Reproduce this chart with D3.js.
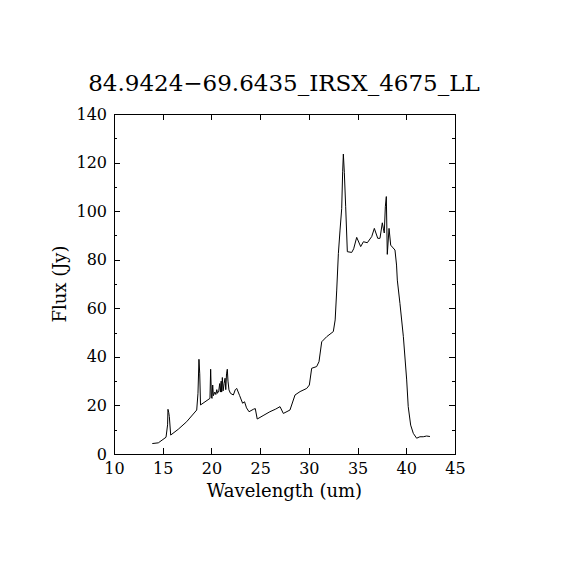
<!DOCTYPE html>
<html lang="en">
<head>
  <meta charset="UTF-8">
  <title>84.9424-69.6435_IRSX_4675_LL</title>
  <style>
    body { margin: 0; background: #fff; }
    svg { display: block; }
    text { font-family: "DejaVu Serif", "Liberation Serif", serif; fill: #000; }
  </style>
</head>
<body>
  <div class="container"></div>
  <script src="https://d3js.org/d3.v7.min.js"></script>
  <script>
    // spectrum
    const wavelength = [13.93, 14.55, 15.34, 15.50, 15.54, 15.62, 15.68, 15.82, 16.6, 17.46,
      18.49, 18.62, 18.72, 18.80, 18.88, 19.85, 19.92, 20.0, 20.06, 20.13,
      20.2, 20.35, 20.45, 20.55, 20.62, 20.75, 20.85, 20.92, 21.0, 21.05,
      21.12, 21.2, 21.3, 21.4, 21.47, 21.55, 21.63, 21.7, 21.8, 21.95,
      22.25, 22.45, 22.6, 22.9, 23.2, 23.4, 23.6, 23.86, 24.3, 24.5,
      24.7, 25.3, 26.0, 26.6, 27.04, 27.38, 28.06, 28.58, 29.1, 29.78,
      30.05, 30.29, 30.8, 31.04, 31.32, 31.83, 32.51, 32.7, 32.86, 33.03,
      33.2, 33.37, 33.47, 33.54, 33.64, 33.78, 33.95, 34.4, 34.6, 34.91,
      35.32, 35.6, 36.0, 36.45, 36.72, 37.07, 37.3, 37.54, 37.64, 37.74,
      37.85, 37.95, 38.05, 38.23, 38.4, 38.57, 38.84, 39.0, 39.08, 39.35,
      39.7, 40.04, 40.2, 40.45, 40.72, 41.06, 41.4, 41.74, 42.08, 42.43]
    const flux = [4.3, 4.6, 6.9, 12, 18.4, 17, 15.4, 7.8, 10.2, 13.3,
      18.1, 25, 39.0, 33, 20.2, 22.9, 34.9, 23.5, 22.9, 28.4,
      24.0, 25.5, 24.5, 26.5, 25, 26, 29, 25.5, 30, 25.5,
      31.5, 26, 29, 31.2, 26.5, 33, 34.9, 30, 26.4, 25,
      24.3, 26.5, 27.0, 24, 20.9, 21.5, 19, 17.4, 18.4, 18.7,
      14.4, 15.8, 17.4, 18.5, 19.5, 16.7, 18.1, 24.3, 25.7, 27.0,
      28.4, 35.3, 36.0, 38, 46.2, 48.3, 50.4, 55.2, 67.5, 82.6,
      92.2, 101, 116.2, 123.5, 116, 101.8, 83.3, 83, 84.5, 89.2,
      85.4, 87.4, 87, 89.5, 92.9, 88.8, 88.8, 95.2, 93, 91,
      101.8, 106, 82.2, 92.9, 86, 85.2, 84, 77.8, 71.6, 62.0,
      48.3, 30.5, 19.5, 11.9, 8.5, 6.5, 7.1, 7.1, 7.4, 7.2]

    const xTicks = [10, 15, 20, 25, 30, 35, 40, 45]
    const yTicks = [0, 20, 40, 60, 80, 100, 120, 140]
    const yMinor = [10, 30, 50, 70, 90, 110, 130]
    const title = '84.9424\u221269.6435_IRSX_4675_LL'

    const W = 570, H = 570
    const pLeft = 114, pRight = 455, pTop = 114, pBottom = 454

    const x = d3.scaleLinear().domain([10, 45]).range([pLeft, pRight])
    const y = d3.scaleLinear().domain([0, 140]).range([pBottom, pTop])

    const svg = d3.select('.container').append('svg')
      .attr('width', W)
      .attr('height', H)
    svg.append('rect').attr('width', W).attr('height', H).attr('fill', '#fff')

    // title
    svg.append('text')
      .attr('x', 284)
      .attr('y', 91)
      .attr('text-anchor', 'middle')
      .style('font-size', '23px')
      .text(title)

    // axes: ticks point inward on all four sides
    const major = 6, minor = 3
    svg.append('g').attr('transform', `translate(0,${pBottom})`)
      .call(d3.axisBottom(x).tickValues(xTicks).tickSize(-major).tickPadding(9).tickFormat(d3.format('d')))
    svg.append('g').attr('transform', `translate(0,${pTop})`)
      .call(d3.axisTop(x).tickValues(xTicks).tickSize(-major).tickFormat(''))
    svg.append('g').attr('transform', `translate(${pLeft},0)`)
      .call(d3.axisLeft(y).tickValues(yTicks).tickSize(-major).tickPadding(7).tickFormat(d3.format('d')))
    svg.append('g').attr('transform', `translate(${pRight},0)`)
      .call(d3.axisRight(y).tickValues(yTicks).tickSize(-major).tickFormat(''))
    svg.append('g').attr('transform', `translate(${pLeft},0)`)
      .call(d3.axisLeft(y).tickValues(yMinor).tickSize(-minor).tickFormat(''))
    svg.append('g').attr('transform', `translate(${pRight},0)`)
      .call(d3.axisRight(y).tickValues(yMinor).tickSize(-minor).tickFormat(''))

    svg.selectAll('.domain').remove()
    svg.selectAll('.tick line').attr('stroke', '#000').attr('shape-rendering', 'crispEdges')
    svg.selectAll('.tick text')
      .style('font-size', '16px')
      .style('font-family', '"DejaVu Serif", serif')
      .attr('fill', '#000')

    // frame
    svg.append('rect')
      .attr('x', pLeft + 0.5).attr('y', pTop + 0.5)
      .attr('width', pRight - pLeft).attr('height', pBottom - pTop)
      .attr('fill', 'none').attr('stroke', '#000')
      .attr('shape-rendering', 'crispEdges')

    // spectrum
    const line = d3.line().x((d, i) => x(wavelength[i])).y(d => y(d))
    svg.append('path')
      .datum(flux)
      .attr('d', line)
      .attr('fill', 'none')
      .attr('stroke', '#000')
      .attr('stroke-width', 1)

    // axis labels
    svg.append('text')
      .attr('x', (pLeft + pRight) / 2)
      .attr('y', 497)
      .attr('text-anchor', 'middle')
      .style('font-size', '18px')
      .text('Wavelength (um)')

    svg.append('text')
      .attr('transform', `translate(66,${(pTop + pBottom) / 2}) rotate(-90)`)
      .attr('text-anchor', 'middle')
      .style('font-size', '18px')
      .text('Flux (Jy)')
  </script>
</body>
</html>
